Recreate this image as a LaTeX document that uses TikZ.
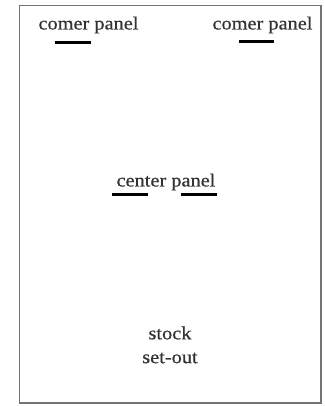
\documentclass[tikz,border=0pt]{standalone}
\usepackage{fontspec}
\setmainfont{Liberation Serif}[FakeStretch=1.1,FakeBold=0.6]
\begin{document}
\begin{tikzpicture}[x=1pt,y=-1pt,
  lbl/.style={inner sep=0pt, font=\fontsize{18.5}{21}\selectfont, text=black!80},
  bar/.style={line width=3pt, black},
  frame/.style={draw=black!55, line width=1.5pt}]
\useasboundingbox (0,0) rectangle (324,406);
\draw[frame] (19.5,5.5) rectangle (321,403);
\node[lbl] (cl) at (88.5,25) {comer panel};
\node[lbl] (cr) at (262.5,25) {comer panel};
\node[lbl] (cc) at (166,182) {center panel};
\node[lbl] (st) at (170,333) {stock};
\node[lbl] (so) at (170,358) {set-out};
\draw[bar] (55,43) -- (91,43);
\draw[bar] (239,42) -- (274,42);
\draw[bar] (112,194) -- (148,194);
\draw[bar] (181,194) -- (217,194);
\end{tikzpicture}
\end{document}
